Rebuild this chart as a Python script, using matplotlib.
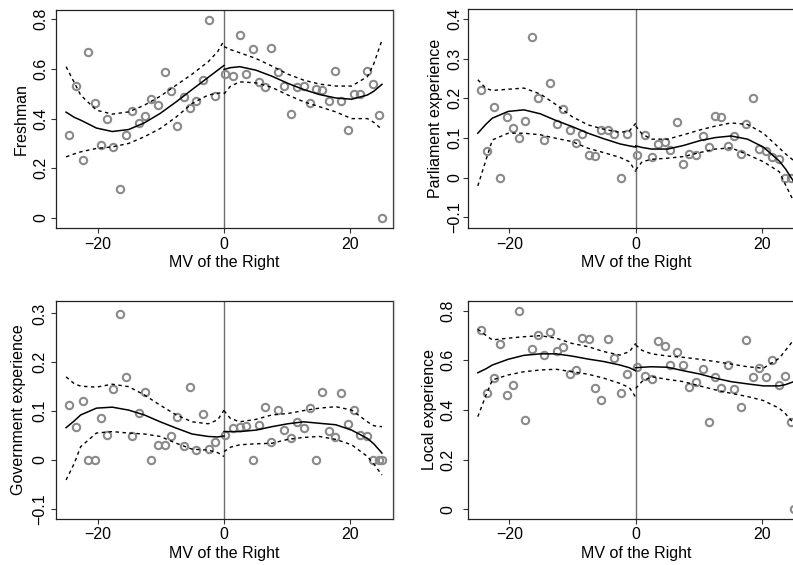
import matplotlib
matplotlib.use("Agg")
import matplotlib.pyplot as plt
from matplotlib.lines import Line2D

plt.rcParams['font.family'] = ['Liberation Sans', 'DejaVu Sans']
plt.rcParams['font.size'] = 11.5

# bin centres (margin of victory of the right)
X_BINS = [-24.5, -23.5, -22.4, -21.5, -20.4, -19.4, -18.5, -17.5, -16.45, -15.5,
          -14.5, -13.5, -12.5, -11.5, -10.4, -9.4, -8.45, -7.4, -6.4, -5.45,
          -4.45, -3.4, -2.4, -1.4, 0.15, 1.5, 2.5, 3.55, 4.6, 5.5,
          6.5, 7.5, 8.5, 9.55, 10.6, 11.6, 12.6, 13.55, 14.6, 15.5,
          16.6, 17.5, 18.55, 19.55, 20.6, 21.6, 22.6, 23.55, 24.55, 25.05]

freshman = [0.333, 0.532, 0.235, 0.667, 0.461, 0.292, 0.399, 0.285, 0.117, 0.333,
            0.429, 0.382, 0.410, 0.478, 0.454, 0.589, 0.512, 0.371, 0.489, 0.441,
            0.470, 0.555, 0.796, 0.491, 0.580, 0.570, 0.738, 0.579, 0.681, 0.547,
            0.526, 0.684, 0.589, 0.530, 0.417, 0.526, 0.532, 0.462, 0.521, 0.517,
            0.472, 0.591, 0.469, 0.356, 0.500, 0.500, 0.590, 0.539, 0.413, 0.000]
parliament = [0.221, 0.066, 0.177, 0.000, 0.152, 0.125, 0.100, 0.143, 0.354, 0.200,
              0.095, 0.239, 0.136, 0.173, 0.121, 0.087, 0.109, 0.057, 0.054, 0.121,
              0.119, 0.110, 0.000, 0.110, 0.056, 0.108, 0.051, 0.085, 0.091, 0.070,
              0.141, 0.035, 0.060, 0.058, 0.104, 0.077, 0.156, 0.152, 0.080, 0.104,
              0.059, 0.136, 0.200, 0.071, 0.066, 0.051, 0.046, 0.000, 0.000]
government = [0.113, 0.068, 0.120, 0.000, 0.000, 0.086, 0.050, 0.145, 0.299, 0.169,
              0.048, 0.097, 0.139, 0.000, 0.031, 0.031, 0.048, 0.087, 0.028, 0.149,
              0.020, 0.095, 0.022, 0.037, 0.050, 0.065, 0.067, 0.070, 0.000, 0.072,
              0.108, 0.036, 0.102, 0.061, 0.044, 0.078, 0.065, 0.106, 0.000, 0.140,
              0.060, 0.047, 0.136, 0.074, 0.102, 0.050, 0.048, 0.000, 0.000, 0.000]
local = [0.721, 0.467, 0.530, 0.667, 0.462, 0.499, 0.800, 0.358, 0.647, 0.701,
         0.620, 0.714, 0.638, 0.652, 0.546, 0.560, 0.689, 0.686, 0.487, 0.439,
         0.686, 0.611, 0.470, 0.545, 0.574, 0.538, 0.526, 0.678, 0.659, 0.580,
         0.632, 0.580, 0.491, 0.511, 0.564, 0.350, 0.533, 0.487, 0.580, 0.483,
         0.412, 0.681, 0.533, 0.570, 0.533, 0.600, 0.499, 0.538, 0.353, 0.000]

FIT_X_LEFT = [-25.0, -23.7, -22.7, -20.2, -17.7, -15.1, -12.6, -10.1, -7.55, -5.05, -2.5, -1.0, 0.0]
FIT_X_RIGHT = [0.0, 1.0, 2.5, 5.05, 7.55, 10.1, 12.6, 15.1, 17.7, 20.2, 22.7, 23.7, 25.0]

fresh_fit_l = [0.426, 0.405, 0.394, 0.362, 0.348, 0.356, 0.383, 0.421, 0.468, 0.517, 0.566, 0.595, 0.614]
fresh_hi_l = [0.609, 0.545, 0.495, 0.434, 0.418, 0.427, 0.454, 0.490, 0.535, 0.579, 0.629, 0.670, 0.714]
fresh_lo_l = [0.246, 0.258, 0.266, 0.280, 0.286, 0.300, 0.327, 0.360, 0.407, 0.461, 0.495, 0.502, 0.505]
fresh_fit_r = [0.598, 0.605, 0.609, 0.595, 0.571, 0.542, 0.517, 0.497, 0.483, 0.478, 0.495, 0.510, 0.538]
fresh_hi_r = [0.690, 0.678, 0.665, 0.642, 0.612, 0.579, 0.555, 0.539, 0.531, 0.531, 0.569, 0.620, 0.716]
fresh_lo_r = [0.499, 0.530, 0.548, 0.544, 0.526, 0.495, 0.468, 0.448, 0.427, 0.400, 0.400, 0.385, 0.356]

parl_fit_l = [0.112, 0.135, 0.150, 0.167, 0.171, 0.161, 0.144, 0.129, 0.112, 0.098, 0.085, 0.080, 0.077]
parl_hi_l = [0.247, 0.225, 0.220, 0.223, 0.226, 0.211, 0.184, 0.154, 0.133, 0.122, 0.114, 0.118, 0.137]
parl_lo_l = [-0.021, 0.045, 0.095, 0.112, 0.112, 0.108, 0.099, 0.091, 0.074, 0.063, 0.051, 0.040, 0.015]
parl_fit_r = [0.080, 0.076, 0.072, 0.072, 0.081, 0.093, 0.101, 0.105, 0.097, 0.077, 0.042, 0.022, -0.010]
parl_hi_r = [0.130, 0.110, 0.097, 0.097, 0.108, 0.120, 0.130, 0.138, 0.134, 0.112, 0.075, 0.060, 0.043]
parl_lo_r = [0.019, 0.040, 0.046, 0.049, 0.053, 0.063, 0.072, 0.075, 0.058, 0.040, 0.015, -0.018, -0.060]

gov_fit_l = [0.066, 0.080, 0.092, 0.106, 0.108, 0.102, 0.092, 0.078, 0.065, 0.053, 0.048, 0.047, 0.049]
gov_hi_l = [0.170, 0.156, 0.151, 0.149, 0.155, 0.150, 0.133, 0.112, 0.092, 0.078, 0.074, 0.082, 0.102]
gov_lo_l = [-0.041, -0.007, 0.027, 0.055, 0.058, 0.055, 0.053, 0.048, 0.034, 0.022, 0.020, 0.015, 0.007]
gov_fit_r = [0.058, 0.058, 0.058, 0.061, 0.068, 0.074, 0.078, 0.075, 0.072, 0.061, 0.044, 0.033, 0.014]
gov_hi_r = [0.101, 0.085, 0.078, 0.083, 0.092, 0.095, 0.101, 0.106, 0.109, 0.102, 0.078, 0.070, 0.068]
gov_lo_r = [0.017, 0.026, 0.031, 0.033, 0.034, 0.042, 0.046, 0.048, 0.042, 0.031, 0.007, -0.008, -0.031]

local_fit_l = [0.550, 0.566, 0.581, 0.604, 0.620, 0.626, 0.626, 0.617, 0.605, 0.595, 0.581, 0.570, 0.558]
local_hi_l = [0.725, 0.700, 0.682, 0.689, 0.695, 0.699, 0.689, 0.668, 0.655, 0.635, 0.621, 0.635, 0.668]
local_lo_l = [0.373, 0.460, 0.521, 0.541, 0.554, 0.561, 0.564, 0.554, 0.544, 0.528, 0.507, 0.490, 0.451]
local_fit_r = [0.570, 0.572, 0.574, 0.572, 0.558, 0.545, 0.528, 0.514, 0.505, 0.497, 0.497, 0.502, 0.514]
local_hi_r = [0.662, 0.640, 0.626, 0.617, 0.612, 0.604, 0.595, 0.585, 0.574, 0.568, 0.608, 0.640, 0.682]
local_lo_r = [0.487, 0.515, 0.534, 0.523, 0.514, 0.497, 0.481, 0.467, 0.454, 0.438, 0.407, 0.385, 0.346]

panels = [
    # ylabel, points, fits, ylim, yticks, yticklabels, axes rect, ytick pad, ylabel x
    ("Freshman", freshman,
     (fresh_fit_l, fresh_hi_l, fresh_lo_l, fresh_fit_r, fresh_hi_r, fresh_lo_r),
     (-0.0415, 0.8375), [0, 0.2, 0.4, 0.6, 0.8], ["0", "0.2", "0.4", "0.6", "0.8"],
     [0.0706, 0.5960, 0.4246, 0.3864], 1.8, -0.104),
    ("Parliament experience", parliament,
     (parl_fit_l, parl_hi_l, parl_lo_l, parl_fit_r, parl_hi_r, parl_lo_r),
     (-0.128, 0.425), [-0.1, 0, 0.1, 0.2, 0.3, 0.4], ["\u22120.1", "0", "0.1", "0.2", "0.3", "0.4"],
     [0.5898, 0.5960, 0.4246, 0.3876], 0.3, -0.095),
    ("Government experience", government,
     (gov_fit_l, gov_hi_l, gov_lo_l, gov_fit_r, gov_hi_r, gov_lo_r),
     (-0.121, 0.326), [-0.1, 0, 0.1, 0.2, 0.3], ["\u22120.1", "0", "0.1", "0.2", "0.3"],
     [0.0706, 0.0814, 0.4246, 0.3864], 2.4, -0.112),
    ("Local experience", local,
     (local_fit_l, local_hi_l, local_lo_l, local_fit_r, local_hi_r, local_lo_r),
     (-0.039, 0.840), [0, 0.2, 0.4, 0.6, 0.8], ["0", "0.2", "0.4", "0.6", "0.8"],
     [0.5898, 0.0814, 0.4246, 0.3864], 5.0, -0.113),
]

fig = plt.figure(figsize=(7.93, 5.65), dpi=100)

for ylab, pts, fits, ylim, yt, ytl, rect, ypad, ylx in panels:
    ax = fig.add_axes(rect)
    fl, hl, ll, fr, hr, lr = fits
    ax.axvline(0, color="#6e6e6e", lw=1.0, zorder=1)
    ax.plot(X_BINS[:len(pts)], pts, "o", mfc="none", mec="#8a8a8a", ms=5.3, mew=1.5, zorder=2)
    for xs, f, h, l in [(FIT_X_LEFT, fl, hl, ll), (FIT_X_RIGHT, fr, hr, lr)]:
        ax.plot(xs, f, color="black", lw=1.1, zorder=3)
        ax.plot(xs, h, color="black", lw=1.0, ls=(0, (2.5, 2.5)), zorder=3)
        ax.plot(xs, l, color="black", lw=1.0, ls=(0, (2.5, 2.5)), zorder=3)
    ax.set_xlim(-26.6, 26.7)
    ax.set_ylim(*ylim)
    ax.set_xticks([-20, 0, 20])
    ax.set_xticklabels(["\u221220", "0", "20"])
    ax.set_yticks(yt)
    ax.set_yticklabels(ytl, rotation=90, va="center")
    ax.tick_params(direction="out", length=3.6, width=0.8, color="#333333")
    ax.tick_params(axis="x", pad=2.5)
    ax.tick_params(axis="y", pad=ypad)
    for s in ax.spines.values():
        s.set_linewidth(0.9)
        s.set_color("#222222")
    ax.set_xlabel("MV of the Right", va="center")
    ax.xaxis.set_label_coords(0.5, -0.156)
    ax.set_ylabel(ylab, va="center")
    ax.yaxis.set_label_coords(ylx, 0.5)

# faint border line left of the right column
for y0, y1 in [(0.598, 0.982), (0.083, 0.467)]:
    fig.add_artist(Line2D([0.497, 0.497], [y0, y1], color="#cfcfcf", lw=1.0))

fig.savefig("out.png", dpi=100)
